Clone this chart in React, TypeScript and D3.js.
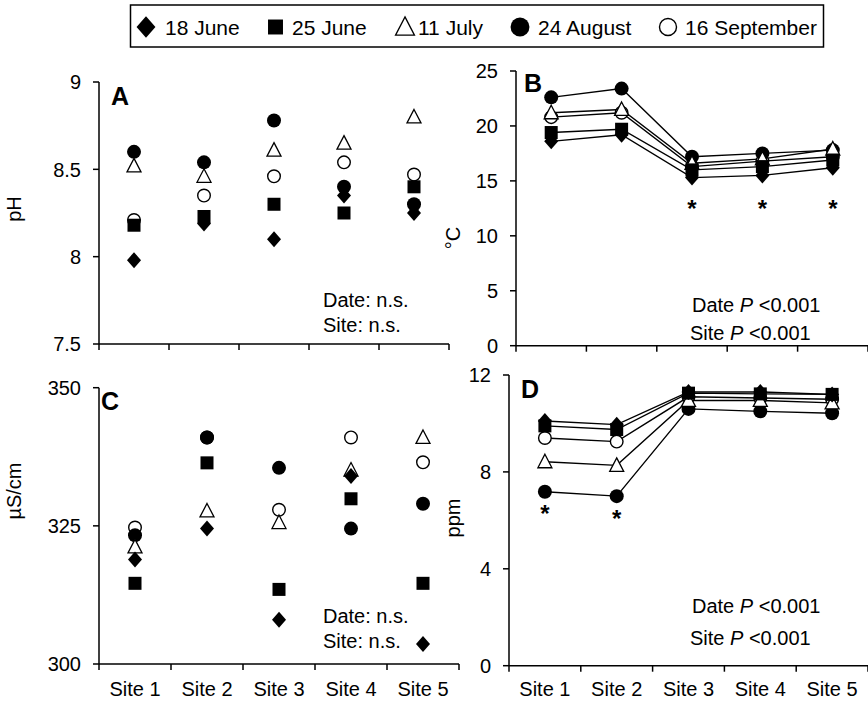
import React from "react";
import * as d3 from "d3";

const sites = ["Site 1", "Site 2", "Site 3", "Site 4", "Site 5"];
const dates = ["18 June", "25 June", "11 July", "24 August", "16 September"];
const markerKinds = ["diamond", "square", "triangle", "filled", "open"];

const phTicks = [7.5, 8, 8.5, 9];
const tempTicks = [0, 5, 10, 15, 20, 25];
const condTicks = [300, 325, 350];
const doTicks = [0, 4, 8, 12];

// rows follow `dates` order; columns follow `sites`
const phValues = [
  [7.98, 8.19, 8.1, 8.35, 8.25],
  [8.18, 8.23, 8.3, 8.25, 8.4],
  [8.52, 8.46, 8.61, 8.65, 8.8],
  [8.6, 8.54, 8.78, 8.4, 8.3],
  [8.21, 8.35, 8.46, 8.54, 8.47],
];
const tempValues = [
  [18.6, 19.2, 15.3, 15.5, 16.2],
  [19.4, 19.7, 16.0, 16.3, 16.9],
  [21.2, 21.5, 16.6, 17.0, 17.9],
  [22.6, 23.4, 17.2, 17.5, 17.8],
  [20.8, 21.2, 16.3, 16.8, 17.2],
];
const condValues = [
  [318.9, 324.5, 308.0, 334.0, 303.6],
  [314.6, 336.4, 313.5, 329.9, 314.6],
  [321.2, 327.7, 325.6, 335.1, 341.0],
  [323.3, 341.0, 335.5, 324.5, 329.0],
  [324.7, 341.0, 327.9, 341.0, 336.5],
];
const doValues = [
  [10.1, 9.95, 11.3, 11.3, 11.2],
  [9.9, 9.75, 11.25, 11.22, 11.2],
  [8.42, 8.27, 10.95, 10.95, 10.85],
  [7.18, 7.0, 10.6, 10.5, 10.42],
  [9.4, 9.25, 11.1, 11.05, 11.0],
];

const tempStars = ["Site 3", "Site 4", "Site 5"];
const doStars = ["Site 1", "Site 2"];

const FONT = "'Liberation Sans', Arial, Helvetica, sans-serif";

function Marker({ kind, x, y, k = 1 }: { kind: string; x: number; y: number; k?: number }) {
  if (kind === "diamond") {
    const w = 7 * k, h = 8 * k;
    return <path d={`M${x},${y - h}L${x + w},${y}L${x},${y + h}L${x - w},${y}Z`} fill="#000" />;
  }
  if (kind === "square") {
    const s = 6.5 * k;
    return <rect x={x - s} y={y - s} width={2 * s} height={2 * s} fill="#000" />;
  }
  if (kind === "triangle") {
    const w = 7 * k;
    return (
      <path
        d={`M${x},${y - 7.5 * k}L${x + w},${y + 6 * k}L${x - w},${y + 6 * k}Z`}
        fill="#fff"
        stroke="#000"
        strokeWidth={1.3}
      />
    );
  }
  if (kind === "filled") return <circle cx={x} cy={y} r={7 * k} fill="#000" />;
  return <circle cx={x} cy={y} r={6.3 * k} fill="#fff" stroke="#000" strokeWidth={1.4} />;
}

type PanelProps = {
  x0: number; x1: number; yTop: number; yBot: number;
  domain: [number, number]; ticks: number[]; values: number[][];
  letter: string; lx: number; ly: number;
  title: string; tx: number; ty: number;
  lines: boolean; xLabels: boolean;
  notes: { x: number; y: number; parts: { t: string; i?: boolean }[] }[];
  stars: string[]; starY: number[];
};

function Panel(p: PanelProps) {
  const x = d3.scaleBand<string>().domain(sites).range([p.x0, p.x1]).padding(0);
  const bw = x.bandwidth();
  const cx = (s: string) => (x(s) as number) + bw / 2;
  const y = d3.scaleLinear().domain(p.domain).range([p.yBot, p.yTop]);
  const line = d3
    .line<number>()
    .x((_, i) => cx(sites[i]))
    .y((v) => y(v));
  const boundaries = d3.range(sites.length + 1).map((i) => p.x0 + i * bw);
  const order = d3.range(p.values.length).reverse();
  return (
    <g>
      {p.lines &&
        p.values.map((row, si) => (
          <path key={"l" + si} d={line(row) || ""} fill="none" stroke="#000" strokeWidth={1.4} />
        ))}
      {order.map((si) =>
        p.values[si].map((v, i) => (
          <Marker key={si + "-" + i} kind={markerKinds[si]} x={cx(sites[i])} y={y(v)} />
        ))
      )}
      <line x1={p.x0} x2={p.x0} y1={p.yTop} y2={p.yBot} stroke="#000" strokeWidth={1.5} />
      <line x1={p.x0} x2={p.x1} y1={p.yBot} y2={p.yBot} stroke="#000" strokeWidth={1.5} />
      {p.ticks.map((t) => (
        <g key={"yt" + t}>
          <line x1={p.x0 - 6} x2={p.x0} y1={y(t)} y2={y(t)} stroke="#000" strokeWidth={1.5} />
          <text x={p.x0 - 18} y={y(t)} dy="0.36em" textAnchor="end" fontSize={20} fontFamily={FONT}>
            {String(t)}
          </text>
        </g>
      ))}
      {boundaries.map((b, i) => (
        <line key={"xt" + i} x1={b} x2={b} y1={p.yBot} y2={p.yBot + 6} stroke="#000" strokeWidth={1.5} />
      ))}
      {p.xLabels &&
        sites.map((s) => (
          <text key={"xl" + s} x={cx(s)} y={696} textAnchor="middle" fontSize={20} fontFamily={FONT}>
            {s}
          </text>
        ))}
      <text x={p.lx} y={p.ly} fontSize={25} fontWeight="bold" fontFamily={FONT}>
        {p.letter}
      </text>
      <text
        transform={`translate(${p.tx},${p.ty}) rotate(-90)`}
        textAnchor="middle"
        fontSize={20}
        fontFamily={FONT}
      >
        {p.title}
      </text>
      {p.notes.map((n, i) => (
        <text key={"n" + i} x={n.x} y={n.y} fontSize={20} fontFamily={FONT}>
          {n.parts.map((pt, j) => (
            <tspan key={j} fontStyle={pt.i ? "italic" : "normal"}>
              {pt.t}
            </tspan>
          ))}
        </text>
      ))}
      {p.stars.map((s, i) => (
        <text key={"s" + s} x={cx(s)} y={p.starY[i] + 11} textAnchor="middle" fontSize={24} fontWeight="bold" fontFamily={FONT}>
          *
        </text>
      ))}
    </g>
  );
}

function Legend() {
  const items = [
    { mx: 146, tx: 165 },
    { mx: 275.5, tx: 292 },
    { mx: 405, tx: 418 },
    { mx: 520, tx: 538 },
    { mx: 668, tx: 685 },
  ];
  const cy = 27;
  return (
    <g>
      <rect x={130.5} y={5} width={693} height={42} fill="#fff" stroke="#000" strokeWidth={1.5} />
      {dates.map((d, i) => (
        <g key={d}>
          <Marker kind={markerKinds[i]} x={items[i].mx} y={cy} k={markerKinds[i] === "square" ? 1.15 : 1.35} />
          <text x={items[i].tx} y={cy} dy="0.36em" fontSize={21} fontFamily={FONT}>
            {d}
          </text>
        </g>
      ))}
    </g>
  );
}

export default function App() {
  return (
    <svg
      width={868}
      height={702}
      viewBox="0 0 868 702"
      style={{ position: "absolute", left: 0, top: 0, background: "#fff" }}
    >
      <rect x={0} y={0} width={868} height={702} fill="#fff" />
      <Panel
        x0={99} x1={449} yTop={82} yBot={344} domain={[7.5, 9]} ticks={phTicks} values={phValues}
        letter="A" lx={111} ly={105} title="pH" tx={21} ty={209}
        lines={false} xLabels={false}
        notes={[
          { x: 323, y: 307, parts: [{ t: "Date: n.s." }] },
          { x: 323, y: 332, parts: [{ t: "Site: n.s." }] },
        ]}
        stars={[]} starY={[]}
      />
      <Panel
        x0={516} x1={868} yTop={71} yBot={345.7} domain={[0, 25]} ticks={tempTicks} values={tempValues}
        letter="B" lx={524} ly={92} title="°C" tx={460} ty={238}
        lines={true} xLabels={false}
        notes={[
          { x: 692, y: 312, parts: [{ t: "Date " }, { t: "P", i: true }, { t: " <0.001" }] },
          { x: 690, y: 340, parts: [{ t: "Site " }, { t: "P", i: true }, { t: " <0.001" }] },
        ]}
        stars={tempStars} starY={[206, 206, 206]}
      />
      <Panel
        x0={99} x1={459} yTop={387.7} yBot={664} domain={[300, 350]} ticks={condTicks} values={condValues}
        letter="C" lx={101} ly={410} title="µS/cm" tx={21} ty={491}
        lines={false} xLabels={true}
        notes={[
          { x: 323, y: 623, parts: [{ t: "Date: n.s." }] },
          { x: 323, y: 648, parts: [{ t: "Site: n.s." }] },
        ]}
        stars={[]} starY={[]}
      />
      <Panel
        x0={509} x1={868} yTop={375} yBot={665.7} domain={[0, 12]} ticks={doTicks} values={doValues}
        letter="D" lx={521} ly={398} title="ppm" tx={460} ty={518}
        lines={true} xLabels={true}
        notes={[
          { x: 692, y: 613, parts: [{ t: "Date " }, { t: "P", i: true }, { t: " <0.001" }] },
          { x: 690, y: 645, parts: [{ t: "Site " }, { t: "P", i: true }, { t: " <0.001" }] },
        ]}
        stars={doStars} starY={[511, 516]}
      />
      <Legend />
    </svg>
  );
}
